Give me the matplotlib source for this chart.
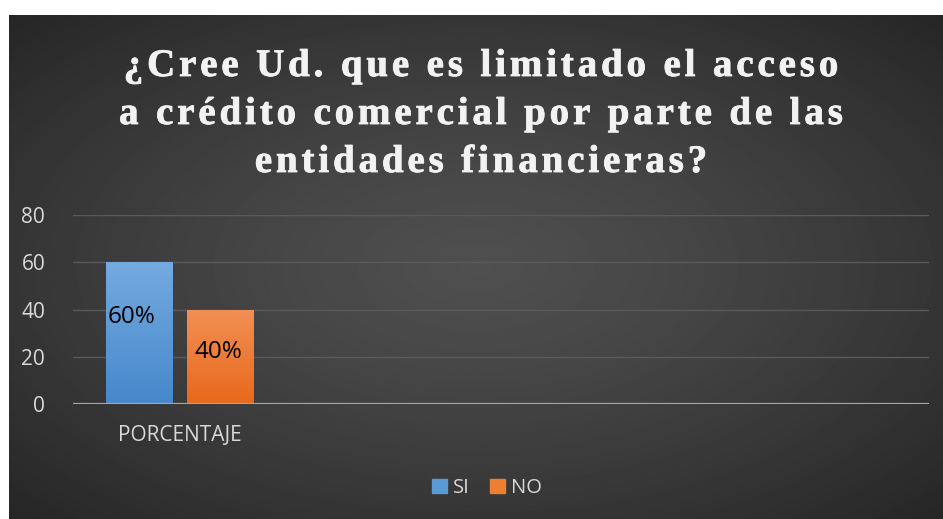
import numpy as np
import matplotlib.pyplot as plt
import matplotlib.patheffects as pe
from matplotlib.colors import to_rgb
from matplotlib import font_manager
from matplotlib.ft2font import FT2Font

# data
categories = ["PORCENTAJE", "", "", ""]
series = ["SI", "NO"]
si_values = [60]
no_values = [40]
value_labels = ["60%", "40%"]
yticks = [0, 20, 40, 60, 80]
title_lines = ["¿Cree Ud. que es limitado el acceso",
               "a crédito comercial por parte de las",
               "entidades financieras?"]

W, H = 943, 519
fig = plt.figure(figsize=(W / 100, H / 100), dpi=100, facecolor="white")

# dark panel with radial gradient
bg = fig.add_axes([9 / W, 0, (W - 9) / W, (H - 15) / H])
bg.set_axis_off()
yy, xx = np.mgrid[-1:1:300j, -1:1:500j]
r = np.sqrt(xx ** 2 + yy ** 2) / np.sqrt(2)
dark, light = 0.15, 0.31
img = light - (light - dark) * np.clip(r, 0, 1) ** 1.3
bg.imshow(img, cmap="gray", vmin=0, vmax=1, aspect="auto", extent=[0, 1, 0, 1])
bg.set_xlim(0, 1)
bg.set_ylim(0, 1)

# title with letter spacing (drawn char by char)
title_size = 28
title_prop = font_manager.FontProperties(family="Liberation Serif", weight="bold", size=title_size)
ft = FT2Font(font_manager.findfont(title_prop))
ft.set_size(title_size, 100)


def advances(s):
    return [ft.load_char(ord(c)).linearHoriAdvance / 65536 for c in s]


tracking = 3.9  # extra px between letters
title_y = [76, 124, 172]
center_x = 481
for line, ty in zip(title_lines, title_y):
    adv = advances(line)
    total = sum(adv) + tracking * (len(line) - 1)
    px = center_x - total / 2
    for c, a in zip(line, adv):
        if c != " ":
            fig.text(px / W, 1 - ty / H, c, ha="left", va="baseline",
                     fontproperties=title_prop, color="#f2f2f2",
                     path_effects=[pe.withStroke(linewidth=0.6, foreground="#f2f2f2")])
        px += a + tracking

ax = fig.add_axes([73 / W, 1 - 404 / H, (929 - 73) / W, (404 - 215) / H])
ax.patch.set_alpha(0)
x = np.arange(len(categories))
bw = 0.313
gap = 0.07
colors = [("#74aadf", "#4688cb"), ("#f28f55", "#e8691a")]
pos_si = x[:1] - (bw + gap) / 2
pos_no = x[:1] + (bw + gap) / 2
bars = []
for pos, vals, (ctop, cbot), name in zip([pos_si, pos_no], [si_values, no_values], colors, series):
    b = ax.bar(pos, vals, width=bw, color=cbot, label=name, zorder=3)
    for rect in b:
        c1 = np.array(to_rgb(ctop))
        c2 = np.array(to_rgb(cbot))
        t = np.linspace(0, 1, 100)[:, None]
        grad = (c1 * (1 - t) + c2 * t)[:, None, :]
        x0, y0 = rect.get_x(), rect.get_y()
        im = ax.imshow(grad, extent=[x0, x0 + rect.get_width(), y0, y0 + rect.get_height()],
                       aspect="auto", zorder=3.5)
        im.set_clip_path(rect)
    bars.append(b)

label_y = [37, 22]
label_x = [pos_si[0] - 0.035, pos_no[0] - 0.01]
for lx, ly, txt in zip(label_x, label_y, value_labels):
    ax.text(lx, ly, txt, ha="center", va="center", fontsize=17.5, color="black",
            family="Open Sans", zorder=5)

ax.set_xlim(-0.5, len(categories) - 0.5)
ax.set_ylim(0, 80)
ax.set_yticks(yticks)
ax.set_xticks(x)
ax.set_xticklabels(categories)
for s in ax.spines.values():
    s.set_visible(False)
ax.tick_params(length=0, colors="#d9d9d9", labelsize=15)
ax.tick_params(axis="y", pad=20)
ax.tick_params(axis="x", pad=15)
for lab in ax.get_xticklabels() + ax.get_yticklabels():
    lab.set_family("Open Sans")
ax.grid(axis="y", color="#5a5a5a", linewidth=1, zorder=0)
ax.axhline(0, color="#a6a6a6", linewidth=1.6, zorder=4)
ax.set_axisbelow(True)

leg = fig.legend(handles=[bars[0], bars[1]], labels=series, loc="center",
                 bbox_to_anchor=(487 / W, 1 - 488 / H), ncol=2, frameon=False,
                 handlelength=0.75, handleheight=0.75, handletextpad=0.3, columnspacing=1.0,
                 prop={"family": "Open Sans", "size": 14.5})
for t in leg.get_texts():
    t.set_color("#d9d9d9")
leg.legend_handles[0].set_color("#5b9bd5")
leg.legend_handles[1].set_color("#ed7d31")

fig.savefig("out.png", dpi=100, facecolor="white")
